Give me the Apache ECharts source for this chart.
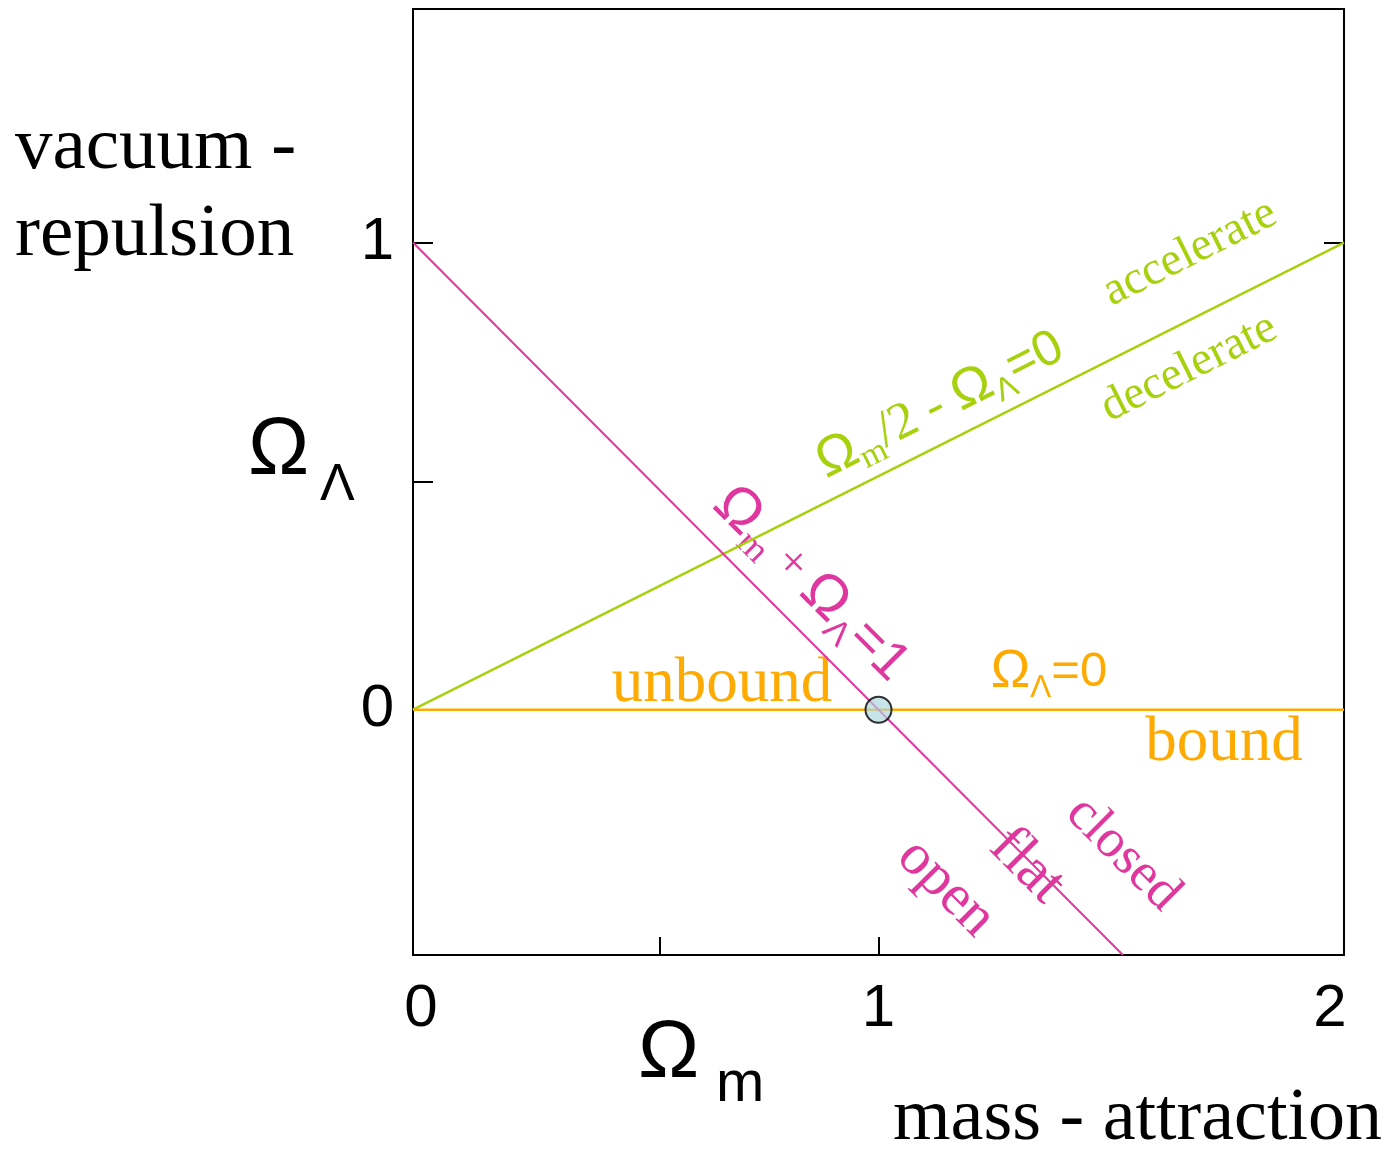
<!DOCTYPE html>
<html>
<head>
<meta charset="utf-8">
<script src="https://cdn.jsdelivr.net/npm/echarts@6/dist/echarts.min.js"></script>
<style>html,body{margin:0;padding:0;background:#fff}#c{width:1390px;height:1149px}</style>
</head>
<body>
<div id="c"></div>
<script>
// ---- data ----
const xTickLabels = [0, 1, 2];
const yTickLabels = [0, 1];
const xTickMarks = [0.53, 1];
const yTickMarks = [0.487, 1];
const yRightTickMarks = [1];

// flat universe: Omega_m + Omega_L = 1
const flatX = [0, 1.525];
const flatY = [1, -0.525];
// accelerate/decelerate: Omega_m/2 - Omega_L = 0
const accX = [0, 2];
const accY = [0, 1];
// bound/unbound: Omega_L = 0
const boundX = [0, 2];
const boundY = [0, 0];
// critical point
const pointX = [1];
const pointY = [0];

const zip = (a, b) => a.map((v, i) => [v, b[i]]);

const MAG = '#e0379f', GRN = '#a6d10c', ORG = '#ffaa00';
const SERIF = 'Liberation Serif', SANS = 'Liberation Sans';

const chart = echarts.init(document.getElementById('c'));

function txt(x, y, text, font, color, rot) {
  return {
    type: 'text', x: x, y: y, rotation: rot || 0,
    style: {
      text: text, font: font, fill: color,
      align: 'center', verticalAlign: 'middle',
      textAlign: 'center', textVerticalAlign: 'middle'
    }
  };
}
function btxt(x, y, text, font, color) {
  return {
    type: 'text', x: x, y: y,
    style: { text: text, font: font, fill: color, textVerticalAlign: 'bottom', verticalAlign: 'bottom' }
  };
}
function richTxt(x, y, text, rich, color, rot) {
  return {
    type: 'text', x: x, y: y, rotation: rot || 0,
    style: {
      text: text, rich: rich, fill: color,
      align: 'center', verticalAlign: 'middle',
      textAlign: 'center', textVerticalAlign: 'middle'
    }
  };
}
const A45 = -Math.PI / 4;
const AG = Math.atan(466 / 931);

const eqRich = (c, k) => ({
  O: { fontFamily: SANS, fontSize: 54 * k, lineHeight: 64 * k, fill: c },
  m: { fontFamily: SERIF, fontSize: 34 * k, lineHeight: 22 * k, verticalAlign: 'bottom', fill: c },
  L: { fontFamily: SANS, fontSize: 32 * k, lineHeight: 22 * k, verticalAlign: 'bottom', fill: c },
  s: { fontFamily: SERIF, fontSize: 52 * k, lineHeight: 64 * k, fill: c },
  p: { fontFamily: SERIF, fontSize: 44 * k, lineHeight: 64 * k, fill: c },
  e: { fontFamily: SANS, fontSize: 50 * k, lineHeight: 64 * k, fill: c }
});

chart.setOption({
  animation: false,
  grid: { left: 413, top: 9, width: 931, height: 946, show: true, borderColor: '#000', borderWidth: 2, backgroundColor: 'transparent' },
  xAxis: {
    type: 'value', min: 0, max: 2, interval: 1,
    axisLine: { show: false, onZero: false },
    splitLine: { show: false },
    axisTick: { show: true, inside: true, length: 18, customValues: xTickMarks, lineStyle: { color: '#000', width: 2 } },
    axisLabel: {
      customValues: xTickLabels, margin: 24, fontFamily: SANS, fontSize: 60, color: '#000',
      formatter: function (v) { return v === 0 ? '{l|0}' : (v === 2 ? '{r|2}' : '{c|' + v + '}'); },
      rich: {
        l: { fontFamily: SANS, fontSize: 60, padding: [0, 0, 0, 16] },
        r: { fontFamily: SANS, fontSize: 60, padding: [0, 28, 0, 0] },
        c: { fontFamily: SANS, fontSize: 60 }
      }
    }
  },
  yAxis: [{
    type: 'value', min: -0.525, max: 1.5,
    axisLine: { show: false, onZero: false },
    splitLine: { show: false },
    axisTick: { show: true, inside: true, length: 20, customValues: yTickMarks, lineStyle: { color: '#000', width: 2 } },
    axisLabel: { customValues: yTickLabels, margin: 19, fontFamily: SANS, fontSize: 60, color: '#000' }
  }, {
    type: 'value', min: -0.525, max: 1.5, position: 'right',
    axisLine: { show: false, onZero: false },
    splitLine: { show: false },
    axisTick: { show: true, inside: true, length: 20, customValues: yRightTickMarks, lineStyle: { color: '#000', width: 2 } },
    axisLabel: { show: false }
  }],
  series: [
    { type: 'line', data: zip(accX, accY), symbol: 'none', lineStyle: { color: GRN, width: 2.5 }, clip: true, z: 2 },
    { type: 'line', data: zip(boundX, boundY), symbol: 'none', lineStyle: { color: ORG, width: 2.5 }, clip: true, z: 3 },
    { type: 'line', data: zip(flatX, flatY), symbol: 'none', lineStyle: { color: MAG, width: 2 }, clip: true, z: 4 },
    { type: 'scatter', data: zip(pointX, pointY), symbol: 'circle', symbolSize: 26,
      itemStyle: { color: 'rgba(173,216,222,0.85)', borderColor: '#000', borderWidth: 2 }, z: 5 }
  ],
  graphic: [
    // y axis title
    btxt(15, 186, 'vacuum -', '75px "' + SERIF + '"', '#000'),
    btxt(15, 273, 'repulsion', '75px "' + SERIF + '"', '#000'),
    btxt(248, 492, 'Ω', '82px "' + SANS + '"', '#000'),
    btxt(320, 512, 'Λ', '52px "' + SANS + '"', '#000'),
    // x axis title
    btxt(638, 1095, 'Ω', '82px "' + SANS + '"', '#000'),
    btxt(716, 1114, 'm', '58px "' + SANS + '"', '#000'),
    btxt(893, 1157, 'mass - attraction', '74px "' + SERIF + '"', '#000'),
    // annotations
    txt(1190, 253, 'accelerate', '47px "' + SERIF + '"', GRN, AG),
    txt(1189, 368, 'decelerate', '47px "' + SERIF + '"', GRN, AG),
    richTxt(940, 405, '{O|Ω}{m|m}{s|/2 - }{O|Ω}{L|Λ}{e|=0}', eqRich(GRN, 1), GRN, AG),
    richTxt(811, 584, '{O|Ω}{m|m}{p| + }{O|Ω}{L|Λ}{e|=1}', eqRich(MAG, 1.08), MAG, A45),
    txt(722, 684, 'unbound', '63px "' + SERIF + '"', ORG, 0),
    txt(1224, 743, 'bound', '63px "' + SERIF + '"', ORG, 0),
    richTxt(1049, 672, '{O|Ω}{L|Λ}{e|=0}', eqRich(ORG, 0.98), ORG, 0),
    txt(946, 888, 'open', '58px "' + SERIF + '"', MAG, A45),
    txt(1027, 866, 'flat', '60px "' + SERIF + '"', MAG, A45),
    txt(1123, 854, 'closed', '54px "' + SERIF + '"', MAG, A45)
  ]
});
</script>
</body>
</html>
